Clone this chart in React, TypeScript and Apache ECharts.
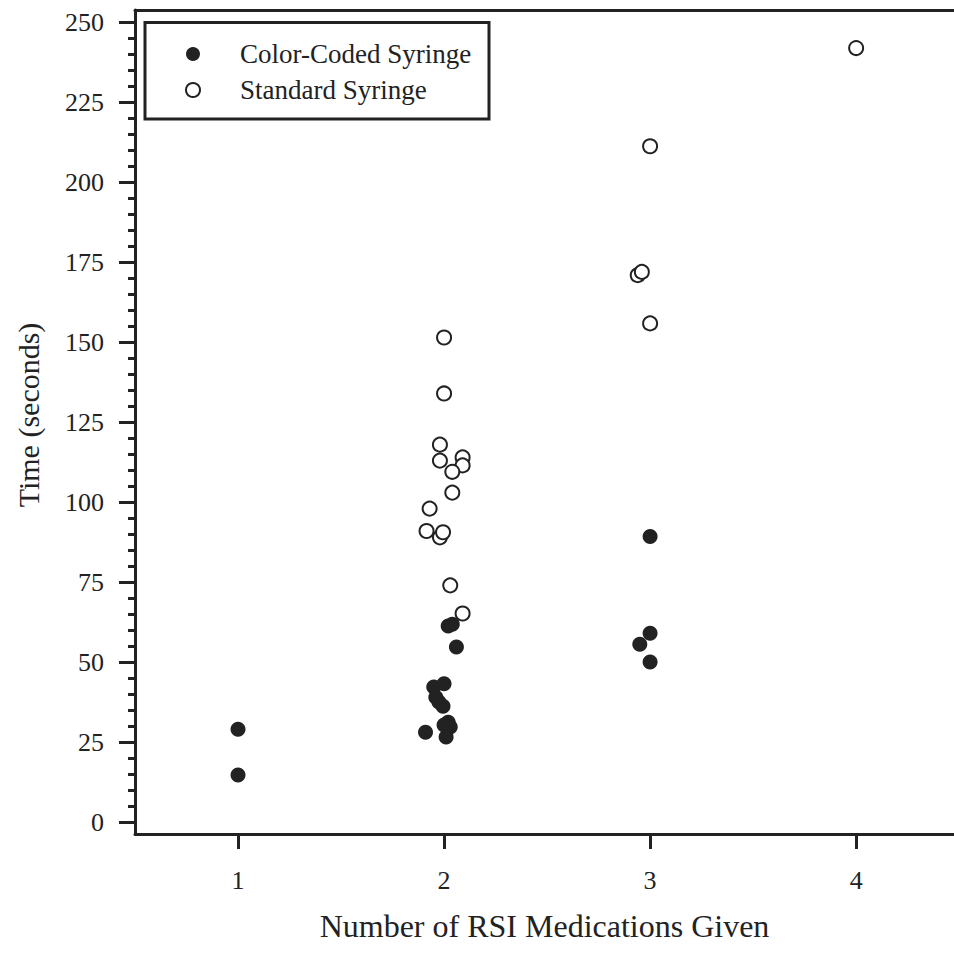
import React, { useEffect, useRef } from "react";
import * as echarts from "echarts";

const colorCodedX = [1, 1, 2.02, 2.04, 2.06, 1.95, 2.0, 1.96, 1.975, 1.995, 2.02, 2.0, 2.03, 2.01, 1.91, 3.0, 3.0, 2.95, 3.0];
const colorCodedY = [29, 14.7, 61.3, 61.8, 54.7, 42.2, 43.2, 39, 37.5, 36.2, 31.2, 30.3, 29.7, 26.6, 28.1, 89.3, 59, 55.6, 50];

const standardX = [2.0, 2.0, 1.98, 1.98, 2.09, 2.09, 2.04, 2.04, 1.93, 1.915, 1.98, 1.995, 2.03, 2.09, 3.0, 2.94, 2.96, 3.0, 4.0];
const standardY = [151.5, 134, 118, 113, 114, 111.5, 109.5, 103, 98, 91, 89, 90.6, 74, 65.2, 211.3, 171, 172, 155.9, 242];

const xTicks = [1, 2, 3, 4];
const yMajorTicks = [0, 25, 50, 75, 100, 125, 150, 175, 200, 225, 250];
const yMinorTicks = [
  5, 10, 15, 20, 30, 35, 40, 45, 55, 60, 65, 70, 80, 85, 90, 95, 105, 110, 115, 120,
  130, 135, 140, 145, 155, 160, 165, 170, 180, 185, 190, 195, 205, 210, 215, 220,
  230, 235, 240, 245,
];

const seriesNames = ["Color-Coded Syringe", "Standard Syringe"];
const xTitle = "Number of RSI Medications Given";
const yTitle = "Time (seconds)";

const INK = "#222222";
const FONT = "'Liberation Serif', 'Times New Roman', serif";

export default function App() {
  const ref = useRef<HTMLDivElement>(null);
  useEffect(() => {
    if (!ref.current) return;
    const chart = echarts.init(ref.current, undefined, { renderer: "svg" });
    const xMin = 0.5;
    const xMax = 4.475;
    const yMin = -3.75;
    const yMax = 253.9;
    chart.setOption({
      animation: false,
      backgroundColor: "#fff",
      grid: { left: 135, top: 10, right: 0, bottom: 120 },
      legend: {
        orient: "vertical",
        left: 185,
        top: 40,
        padding: 0,
        itemGap: 8,
        itemWidth: 14,
        itemHeight: 14,
        icon: "circle",
        data: seriesNames,
        selectedMode: false,
        textStyle: {
          fontFamily: FONT,
          fontSize: 27,
          color: INK,
          lineHeight: 28,
          padding: [0, 0, 0, 35],
        },
      },
      graphic: [
        {
          type: "rect",
          shape: { x: 145, y: 22.5, width: 344, height: 96.5 },
          style: { fill: "none", stroke: INK, lineWidth: 3 },
          z: 10,
        },
      ],
      xAxis: [
        {
          type: "value",
          min: xMin,
          max: xMax,
          position: "bottom",
          axisLine: { show: true, onZero: false, lineStyle: { color: INK, width: 3 } },
          axisTick: { show: true, customValues: xTicks, length: 15, lineStyle: { color: INK, width: 3 } },
          axisLabel: {
            customValues: xTicks,
            margin: 33,
            fontFamily: FONT,
            fontSize: 26,
            color: INK,
          },
          splitLine: { show: false },
          name: xTitle,
          nameLocation: "middle",
          nameGap: 76,
          nameTextStyle: { fontFamily: FONT, fontSize: 32, color: INK },
        },
        {
          type: "value",
          min: xMin,
          max: xMax,
          position: "top",
          axisLine: { show: true, onZero: false, lineStyle: { color: INK, width: 3 } },
          axisTick: { show: false },
          axisLabel: { show: false },
          splitLine: { show: false },
        },
      ],
      yAxis: [
        {
          type: "value",
          min: yMin,
          max: yMax,
          position: "left",
          axisLine: { show: true, onZero: false, lineStyle: { color: INK, width: 3 } },
          axisTick: { show: true, customValues: yMajorTicks, length: 16, lineStyle: { color: INK, width: 3 } },
          axisLabel: {
            customValues: yMajorTicks,
            margin: 31,
            fontFamily: FONT,
            fontSize: 26,
            color: INK,
          },
          splitLine: { show: false },
          name: yTitle,
          nameLocation: "middle",
          nameGap: 92,
          nameTextStyle: { fontFamily: FONT, fontSize: 30, color: INK, padding: [0, 0, 0, 14] },
        },
        {
          type: "value",
          min: yMin,
          max: yMax,
          position: "left",
          axisLine: { show: false },
          axisTick: { show: true, customValues: yMinorTicks, length: 7, lineStyle: { color: INK, width: 3 } },
          axisLabel: { show: false },
          splitLine: { show: false },
        },
      ],
      series: [
        {
          name: seriesNames[0],
          type: "scatter",
          symbol: "circle",
          symbolSize: 15,
          data: colorCodedX.map((x, i) => [x, colorCodedY[i]]),
          itemStyle: { color: INK, borderColor: INK, borderWidth: 0, opacity: 1 },
        },
        {
          name: seriesNames[1],
          type: "scatter",
          symbol: "circle",
          symbolSize: 14,
          data: standardX.map((x, i) => [x, standardY[i]]),
          itemStyle: { color: "#fff", borderColor: INK, borderWidth: 2, opacity: 1 },
        },
      ],
    });
    return () => chart.dispose();
  }, []);
  return <div ref={ref} style={{ position: "absolute", left: 0, top: 0, width: 954, height: 954 }} />;
}
